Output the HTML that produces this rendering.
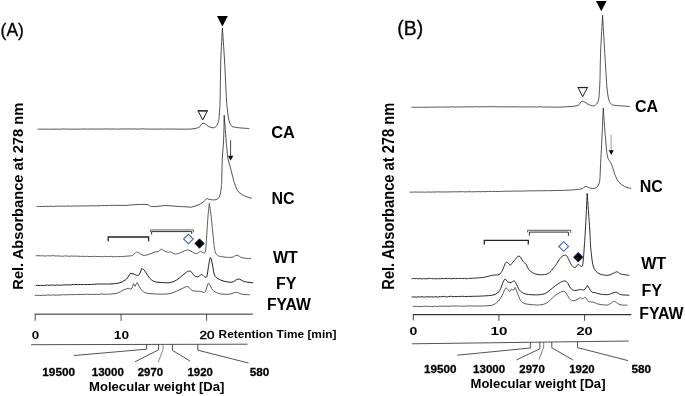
<!DOCTYPE html>
<html lang="en">
<head>
<meta charset="utf-8">
<title>Chromatograms</title>
<style>
  html, body { margin: 0; padding: 0; background: #fff; }
  body { width: 685px; height: 396px; overflow: hidden; }
  svg { display: block; }
  text { font-family: "Liberation Sans", sans-serif; fill: #000; }
  .b { font-weight: bold; }
</style>
</head>
<body>
<svg width="685" height="396" viewBox="0 0 685 396">
  <rect width="685" height="396" fill="#fff"/>

  <!-- chromatogram traces -->
  <g fill="none" stroke="#141414" stroke-width="0.85" stroke-linejoin="round" stroke-linecap="round">
    <path id="CA_A" stroke="#222" stroke-width="0.8" d="M38.0 129.2L39.4 129.18L40.8 129.23L42.2 129.17L43.7 129.16L45.1 129.11L46.5 129.16L47.9 129.26L49.3 129.21L50.7 129.25L52.1 129.19L53.6 129.19L55.0 129.17L56.4 129.02L57.8 129.22L59.2 129.19L60.6 129.18L62.0 129.01L63.4 129.00L64.9 129.06L66.3 129.09L67.7 129.15L69.1 129.12L70.5 129.16L71.9 129.07L73.3 129.14L74.8 129.14L76.2 129.05L77.6 129.24L79.0 129.14L80.4 129.19L81.8 129.04L83.2 129.03L84.7 129.06L86.1 129.07L87.5 129.13L88.9 129.10L90.3 129.04L91.7 128.99L93.1 129.02L94.6 129.16L96.0 128.99L97.4 129.07L98.8 129.09L100.2 128.93L101.6 129.05L103.0 129.15L104.4 128.88L105.9 129.01L107.3 129.02L108.7 128.96L110.1 129.06L111.5 129.02L112.9 128.90L114.3 129.08L115.8 129.06L117.2 129.08L118.6 129.12L120.0 129.03L121.4 129.01L122.9 128.90L124.3 129.06L125.7 128.96L127.1 128.98L128.6 128.91L130.0 128.94L131.4 128.98L132.9 129.12L134.3 128.86L135.7 128.91L137.1 129.05L138.6 129.15L140.0 129.08L141.4 128.88L142.9 128.84L144.3 129.07L145.7 128.98L147.1 128.96L148.6 129.13L150.0 129.14L151.4 129.06L152.9 129.07L154.3 129.09L155.7 129.19L157.1 129.11L158.6 129.11L160.0 129.11L161.4 128.94L162.9 129.17L164.3 129.15L165.7 129.12L167.1 128.92L168.6 129.03L170.0 129.15L171.4 128.94L172.9 129.07L174.3 129.17L175.7 128.99L177.1 129.22L178.6 129.14L180.0 129.10C181.7 129.1 187.5 129.2 190.0 129.1C192.5 129.0 193.7 128.7 195.0 128.5C196.3 128.3 196.8 128.1 197.6 127.8C198.4 127.5 199.2 127.4 199.8 126.8C200.4 126.2 200.9 124.9 201.4 124.3C201.9 123.7 202.4 123.3 203.0 123.2C203.6 123.1 204.3 123.4 205.2 123.9C206.1 124.4 207.1 125.6 208.2 126.2C209.3 126.8 211.0 127.5 212.0 127.7C213.0 127.9 213.4 128.0 214.2 127.6C215.0 127.2 216.2 126.5 216.9 125.5C217.6 124.5 218.0 123.2 218.4 121.7C218.8 120.2 219.0 118.5 219.2 116.4C219.4 114.3 219.5 111.7 219.7 109.0C219.8 106.3 219.9 108.2 220.1 100.0C220.3 91.8 220.4 72.0 220.8 60.0C221.2 48.0 222.1 33.6 222.4 28.3C222.8 33.6 223.8 48.0 224.5 60.0C225.2 72.0 226.0 91.7 226.5 100.0C227.0 108.3 227.2 106.8 227.5 110.0C227.8 113.2 228.1 116.5 228.6 118.9C229.1 121.3 229.8 123.3 230.5 124.6C231.2 125.9 231.5 126.3 233.0 126.8C234.5 127.3 236.7 127.5 239.3 127.8C241.9 128.1 247.2 128.4 248.8 128.5"/>
    <path id="NC_A" stroke="#222" stroke-width="0.8" d="M37.0 206.5L38.4 206.47L39.8 206.50L41.2 206.51L42.6 206.44L44.0 206.52L45.4 206.32L46.9 206.33L48.3 206.46L49.7 206.34L51.1 206.23L52.5 206.39L53.9 206.43L55.3 206.22L56.7 206.10L58.1 206.21L59.5 206.19L60.9 206.16L62.3 206.31L63.8 206.05L65.2 206.26L66.6 205.99L68.0 206.02L69.4 206.14L70.8 206.17L72.2 206.13L73.6 206.06L75.0 206.02L76.4 206.00L77.8 206.02L79.2 205.93L80.7 205.96L82.1 205.97L83.5 205.89L84.9 205.95L86.3 205.91L87.7 206.04L89.1 205.85L90.5 205.76L91.9 205.75L93.3 205.76L94.7 205.84L96.1 205.69L97.6 205.75L99.0 205.88L100.4 205.42L101.8 205.54L103.2 205.66L104.6 205.66L106.0 205.60C107.1 205.6 109.4 205.3 112.6 205.3C115.8 205.3 121.5 205.5 125.3 205.4C129.1 205.3 131.7 204.8 135.4 204.6C139.1 204.4 144.8 204.2 147.3 204.5C149.8 204.8 148.9 206.0 150.5 206.3C152.1 206.6 154.3 206.6 156.8 206.5C159.3 206.4 162.5 205.5 165.7 205.5C168.9 205.5 172.4 206.1 175.8 206.3C179.2 206.5 183.4 206.7 186.0 206.8C188.6 206.9 189.2 207.5 191.4 207.1C193.6 206.7 196.7 205.6 198.9 204.6C201.1 203.6 203.3 201.9 204.6 200.8C205.9 199.8 206.5 198.7 206.9 198.3C207.2 198.5 207.8 199.0 209.0 199.3C210.2 199.6 212.6 200.0 214.1 199.9C215.6 199.8 216.9 199.6 217.9 198.7C218.9 197.8 219.6 196.6 220.2 194.5C220.8 192.4 221.2 188.4 221.4 186.3C221.7 184.2 221.5 186.3 221.7 181.7C221.8 177.1 222.0 165.8 222.3 158.9C222.6 152.0 223.3 147.3 223.6 140.0C223.9 132.7 224.1 119.3 224.2 115.2C224.5 119.3 225.6 134.2 226.1 140.0C226.6 145.8 226.7 146.9 227.0 150.1C227.3 153.2 227.4 155.9 228.0 158.9C228.6 161.9 229.6 164.2 230.5 167.8C231.4 171.4 232.8 177.3 233.7 180.4C234.5 183.5 234.8 184.4 235.6 186.3C236.4 188.2 237.2 190.4 238.7 192.0C240.2 193.6 242.3 194.8 244.4 195.8C246.5 196.8 250.2 197.8 251.3 198.2"/>
    <path id="WT_A" stroke="#303030" stroke-width="0.78" d="M36.2 255.7L37.6 255.75L39.0 255.68L40.5 255.84L41.9 255.81L43.3 255.72L44.7 256.13L46.2 255.87L47.6 255.77L49.0 255.85L50.4 255.85L51.9 255.89L53.3 255.57L54.7 255.88L56.1 256.09L57.6 255.82L59.0 255.99L60.4 256.14L61.8 256.14L63.3 256.24L64.7 255.85L66.1 256.04L67.5 256.06L69.0 256.20L70.4 256.28L71.8 255.81L73.2 256.32L74.7 256.01L76.1 256.30L77.5 256.04L78.9 256.27L80.4 256.42L81.8 256.27L83.2 256.33L84.6 256.43L86.1 256.36L87.5 256.35L88.9 256.58L90.3 256.53L91.8 256.38L93.2 256.79L94.6 256.30L96.0 256.59L97.5 256.46L98.9 256.53L100.3 256.62L101.7 256.57L103.2 256.65L104.6 256.38L106.0 256.40L107.4 256.68L108.8 256.47L110.3 256.47L111.7 256.41L113.1 256.76L114.5 256.70L115.9 256.79L117.4 256.48L118.8 256.60L120.2 256.60C122.1 256.5 129.3 256.1 131.6 255.7C133.9 255.3 133.3 254.6 134.1 254.0C134.9 253.4 135.8 252.3 136.6 252.1C137.4 251.9 138.0 252.5 139.1 253.0C140.2 253.5 141.4 255.0 142.9 255.3C144.4 255.6 146.1 255.2 148.0 254.7C149.9 254.2 152.5 252.6 154.3 252.1C156.1 251.6 157.5 252.0 158.7 251.5C159.8 251.0 160.2 249.3 161.2 249.2C162.1 249.1 163.2 250.4 164.4 250.9C165.6 251.4 167.1 252.2 168.2 252.4C169.2 252.6 169.6 251.6 170.7 251.9C171.8 252.2 173.0 253.8 174.5 254.0C176.0 254.2 177.6 253.6 179.5 253.0C181.4 252.4 184.4 250.8 186.0 250.3C187.6 249.8 187.7 249.7 188.9 250.1C190.1 250.5 192.0 252.0 193.4 252.6C194.8 253.2 195.9 253.7 197.1 253.5C198.2 253.3 199.2 251.5 200.3 251.4C201.4 251.3 202.7 252.9 203.5 252.9C204.3 252.9 204.9 253.7 205.4 251.6C205.9 249.5 206.1 244.3 206.4 240.3C206.7 236.3 206.9 231.8 207.2 227.6C207.5 223.4 207.8 219.0 208.1 215.0C208.4 211.0 209.1 205.3 209.3 203.4C209.6 205.3 210.5 211.0 211.0 215.0C211.5 219.0 211.9 223.4 212.3 227.6C212.7 231.8 213.2 236.5 213.6 240.3C214.0 244.1 214.2 247.9 214.8 250.4C215.4 252.9 215.9 254.1 217.3 255.2C218.7 256.3 220.6 256.5 223.0 256.9C225.4 257.2 229.6 257.6 231.9 257.3C234.2 257.0 235.2 255.1 236.9 255.2C238.6 255.3 239.7 257.1 242.0 257.7C244.3 258.3 249.3 258.5 250.8 258.6"/>
    <path id="FY_A" stroke="#111" stroke-width="0.95" d="M36.2 285.5L37.6 285.32L39.0 285.54L40.5 285.61L41.9 285.26L43.3 285.55L44.7 285.44L46.2 285.26L47.6 285.00L49.0 285.41L50.4 285.18L51.9 285.08L53.3 285.18L54.7 285.16L56.1 285.27L57.6 284.91L59.0 285.16L60.4 285.17L61.8 285.14L63.3 284.89L64.7 284.79L66.1 284.99L67.5 284.84L69.0 284.81L70.4 284.95L71.8 284.70L73.2 284.41L74.7 284.62L76.1 284.40L77.5 284.72L78.9 284.62L80.4 284.47L81.8 284.52L83.2 284.60L84.6 284.47L86.1 284.60L87.5 284.39L88.9 284.50L90.3 284.53L91.8 284.52L93.2 284.19L94.6 284.36L96.0 283.97L97.5 284.04L98.9 283.90L100.3 284.26L101.7 283.93L103.2 284.06L104.6 284.01L106.0 284.00C106.7 284.0 107.9 284.2 110.1 284.0C112.2 283.8 116.3 283.7 118.9 283.0C121.5 282.3 124.0 281.2 125.9 279.6C127.8 278.0 129.6 274.4 130.3 273.3C130.9 273.4 132.7 273.8 134.1 274.1C135.5 274.5 137.2 276.3 138.5 275.4C139.8 274.5 141.2 269.7 141.7 268.6C142.1 268.9 143.1 268.9 144.2 270.1C145.2 271.3 146.7 274.1 148.0 275.8C149.3 277.5 150.3 279.1 151.8 280.2C153.3 281.2 154.5 281.7 156.8 282.1C159.1 282.5 163.5 282.6 165.7 282.7C167.9 282.8 168.2 283.0 170.0 282.6C171.8 282.2 174.2 281.5 176.3 280.3C178.4 279.1 180.7 276.8 182.6 275.3C184.5 273.8 186.3 272.1 187.7 271.5C189.1 270.9 189.8 270.9 190.8 271.5C191.9 272.1 192.8 274.4 194.0 275.3C195.2 276.2 196.5 276.9 197.8 276.8C199.1 276.7 200.4 274.6 201.6 274.6C202.8 274.6 203.8 276.5 204.7 276.8C205.6 277.1 206.3 278.2 206.9 276.5C207.5 274.8 207.9 269.5 208.5 266.4C209.1 263.2 209.8 258.0 210.4 257.6C211.0 257.2 211.7 261.2 212.3 263.9C212.9 266.6 213.5 271.7 214.2 274.0C214.9 276.3 215.2 276.7 216.7 277.8C218.2 278.9 220.5 280.2 223.0 280.9C225.5 281.6 229.4 282.5 231.9 282.2C234.4 281.9 236.1 279.1 238.2 279.0C240.3 278.9 242.1 281.0 244.5 281.6C246.9 282.2 251.3 282.6 252.7 282.8"/>
    <path id="FYAW_A" stroke="#2a2a2a" stroke-width="0.8" d="M35.2 295.4L36.6 295.37L38.0 295.27L39.4 295.35L40.9 295.53L42.3 295.28L43.7 295.31L45.1 295.35L46.5 295.17L47.9 295.00L49.4 295.07L50.8 295.25L52.2 294.87L53.6 294.98L55.0 295.17L56.4 295.11L57.9 294.98L59.3 295.06L60.7 294.95L62.1 294.75L63.5 294.68L64.9 294.77L66.4 294.95L67.8 294.73L69.2 294.66L70.6 294.65L72.0 294.52L73.4 294.68L74.8 294.52L76.3 294.69L77.7 294.31L79.1 294.64L80.5 294.48L81.9 294.29L83.3 294.61L84.8 294.45L86.2 294.17L87.6 294.32L89.0 294.45L90.4 294.33L91.8 294.46L93.3 294.43L94.7 294.39L96.1 294.32L97.5 294.43L98.9 294.32L100.3 294.26L101.8 293.91L103.2 294.27L104.6 294.30L106.0 294.10C106.7 294.1 108.1 294.3 110.1 294.1C112.0 293.9 115.6 293.7 117.7 293.1C119.8 292.5 120.9 291.1 122.7 290.3C124.5 289.5 127.0 288.6 128.4 288.4C129.8 288.2 130.5 289.8 131.3 289.0C132.2 288.2 133.1 284.6 133.5 283.7C133.8 284.1 134.8 285.9 135.1 286.3C135.4 285.7 136.8 283.1 137.2 282.5C137.7 283.5 139.1 286.7 140.4 288.4C141.7 290.1 142.7 291.7 144.8 292.6C146.9 293.5 150.5 293.6 153.0 293.8C155.5 294.1 157.7 294.1 160.0 294.1C162.3 294.1 165.0 294.2 167.0 294.0C169.0 293.8 170.4 293.5 172.0 293.0C173.6 292.5 174.8 291.9 176.5 291.2C178.2 290.5 180.1 289.4 182.0 288.6C183.9 287.8 185.9 286.2 187.7 286.6C189.5 287.0 190.6 289.9 192.7 290.7C194.8 291.5 198.3 291.1 200.3 291.4C202.3 291.7 203.6 292.9 204.7 292.3C205.8 291.7 206.0 289.4 206.6 287.9C207.2 286.4 207.8 283.3 208.5 283.2C209.2 283.1 210.2 285.9 211.0 287.2C211.8 288.5 212.0 289.9 213.6 291.0C215.2 292.1 217.9 293.4 220.5 293.9C223.1 294.4 226.7 294.5 229.3 294.2C231.9 293.9 234.2 292.3 236.3 292.3C238.4 292.3 239.8 293.8 242.0 294.2C244.2 294.6 248.2 294.6 249.5 294.7"/>
  </g>
  <g fill="none" stroke="#101010" stroke-width="0.95" stroke-linejoin="round" stroke-linecap="round">
    <path id="CA_B" stroke="#222" stroke-width="0.78" d="M412.0 107.3L413.4 107.26L414.8 107.24L416.3 107.42L417.7 107.11L419.1 107.28L420.5 107.42L422.0 107.15L423.4 107.26L424.8 107.35L426.2 107.17L427.7 107.22L429.1 107.23L430.5 107.08L431.9 107.13L433.3 107.15L434.8 107.18L436.2 107.10L437.6 107.08L439.0 107.00L440.5 107.04L441.9 107.13L443.3 107.05L444.7 106.97L446.2 106.96L447.6 107.22L449.0 107.09L450.4 107.04L451.8 106.77L453.3 107.02L454.7 106.99L456.1 107.08L457.5 106.96L459.0 106.91L460.4 106.95L461.8 106.74L463.2 106.97L464.7 106.90L466.1 106.81L467.5 106.96L468.9 106.98L470.3 106.71L471.8 106.76L473.2 106.83L474.6 106.81L476.0 106.75L477.5 106.69L478.9 106.93L480.3 106.83L481.7 106.64L483.2 106.62L484.6 106.85L486.0 106.78L487.4 106.85L488.8 106.78L490.3 106.65L491.7 106.75L493.1 106.57L494.5 106.69L496.0 106.75L497.4 106.80L498.8 106.71L500.2 106.77L501.7 106.82L503.1 106.82L504.5 106.85L505.9 106.82L507.3 106.79L508.8 106.89L510.2 106.83L511.6 106.77L513.0 106.80L514.5 106.85L515.9 106.85L517.3 106.88L518.7 106.88L520.2 106.90L521.6 106.88L523.0 106.80L524.4 106.94L525.8 107.00L527.3 106.96L528.7 106.92L530.1 106.97L531.5 106.87L533.0 106.80L534.4 106.97L535.8 106.89L537.2 107.04L538.7 106.90L540.1 106.78L541.5 106.92L542.9 107.13L544.3 106.98L545.8 106.91L547.2 106.97L548.6 107.08L550.0 107.09L551.5 107.07L552.9 107.18L554.3 107.13L555.7 107.08L557.2 107.13L558.6 107.22L560.0 107.10C561.7 107.0 567.3 106.8 570.0 106.6C572.7 106.4 574.6 106.2 576.1 105.9C577.6 105.6 578.4 105.3 579.1 104.7C579.9 104.1 580.1 102.9 580.6 102.3C581.1 101.7 581.6 101.3 582.3 101.3C583.0 101.3 583.8 101.6 584.8 102.1C585.8 102.6 586.9 103.7 588.2 104.3C589.5 104.9 591.5 105.8 592.7 105.9C593.9 106.0 594.6 105.7 595.4 105.1C596.2 104.5 597.1 103.6 597.7 102.5C598.3 101.4 598.5 100.1 598.8 98.3C599.1 96.5 599.2 94.5 599.4 91.8C599.6 89.1 599.8 84.8 599.9 82.0C600.0 79.2 600.0 80.3 600.1 75.0C600.2 69.7 600.3 59.9 600.7 50.0C601.1 40.1 602.3 21.2 602.6 15.4C602.9 21.2 604.0 40.1 604.6 50.0C605.2 59.9 605.7 68.7 606.1 75.0C606.5 81.3 606.6 84.0 607.0 88.0C607.4 92.0 608.0 96.4 608.6 98.9C609.2 101.5 609.6 102.2 610.5 103.3C611.4 104.3 612.0 104.8 613.7 105.2C615.4 105.6 618.0 105.6 620.6 105.8C623.2 106.0 627.9 106.4 629.4 106.5"/>
    <path id="NC_B" stroke="#222" stroke-width="0.78" d="M410.0 192.1L411.4 192.17L412.8 192.17L414.2 191.99L415.6 192.06L417.0 192.12L418.4 192.03L419.8 192.13L421.2 192.08L422.6 192.10L424.0 192.00L425.4 192.22L426.8 192.10L428.2 191.98L429.6 192.00L431.0 192.19L432.4 191.94L433.8 192.03L435.2 192.03L436.6 191.95L438.0 191.85L439.4 191.95L440.8 191.95L442.2 192.01L443.6 191.97L445.0 191.90L446.4 191.96L447.8 191.93L449.2 191.89L450.6 191.87L452.0 191.84L453.4 191.91L454.8 191.76L456.2 191.79L457.6 191.83L459.0 191.70L460.4 191.78L461.8 191.64L463.2 191.74L464.6 191.83L466.0 191.83L467.4 191.77L468.8 191.75L470.2 191.64L471.6 191.89L473.0 191.78L474.4 191.82L475.8 191.65L477.2 191.70L478.6 191.56L480.0 191.76L481.4 191.75L482.8 191.50L484.2 191.63L485.7 191.66L487.1 191.45L488.5 191.42L489.9 191.46L491.3 191.48L492.7 191.39L494.1 191.49L495.5 191.48L497.0 191.49L498.4 191.47L499.8 191.52L501.2 191.47L502.6 191.25L504.0 191.29L505.4 191.22L506.8 191.20L508.3 191.26L509.7 191.24L511.1 191.26L512.5 191.07L513.9 191.08L515.3 191.15L516.7 191.12L518.2 191.09L519.6 191.09L521.0 191.01L522.4 191.10L523.8 191.05L525.2 191.00L526.6 190.93L528.0 190.95L529.5 190.72L530.9 190.84L532.3 190.90L533.7 190.75L535.1 190.87L536.5 190.84L537.9 190.70L539.3 190.77L540.8 190.74L542.2 190.78L543.6 190.77L545.0 190.70L546.5 190.61L548.0 190.65L549.5 190.63L551.0 190.68L552.5 190.62L554.0 190.52L555.5 190.45L557.0 190.51L558.5 190.46L560.0 190.50C562.1 190.4 569.0 190.2 572.6 189.9C576.2 189.6 579.6 189.3 581.5 188.9C583.4 188.5 583.3 187.8 584.0 187.4C584.7 187.0 585.2 186.4 585.9 186.4C586.6 186.4 587.2 187.0 588.4 187.4C589.5 187.8 591.4 188.6 592.8 188.6C594.2 188.6 595.6 188.2 596.6 187.4C597.6 186.6 598.3 185.5 598.9 183.9C599.5 182.3 599.8 180.3 600.0 177.6C600.2 174.9 600.2 172.7 600.4 167.9C600.6 163.1 601.1 155.2 601.4 148.9C601.7 142.6 602.0 136.8 602.3 130.0C602.6 123.2 603.1 111.7 603.3 108.0C603.5 111.7 604.4 124.7 604.8 130.0C605.2 135.3 605.4 136.5 605.7 140.1C606.0 143.7 606.3 148.4 606.7 151.5C607.1 154.6 607.4 156.6 608.0 158.4C608.6 160.2 609.8 160.8 610.5 162.2C611.2 163.6 611.8 164.8 612.4 166.6C613.0 168.4 613.8 171.3 614.3 172.9C614.8 174.5 614.9 174.8 615.6 176.3C616.3 177.8 617.2 180.3 618.7 182.0C620.2 183.7 622.4 185.3 624.4 186.4C626.4 187.5 629.7 188.0 630.7 188.3"/>
    <path id="WT_B" stroke="#111" stroke-width="0.88" d="M412.0 278.7L413.4 278.51L414.8 278.67L416.2 278.60L417.7 278.69L419.1 278.75L420.5 278.59L421.9 279.02L423.3 278.59L424.7 278.81L426.1 278.65L427.6 278.80L429.0 278.23L430.4 278.48L431.8 278.64L433.2 278.69L434.6 278.96L436.0 278.63L437.5 278.77L438.9 278.68L440.3 278.71L441.7 278.63L443.1 278.51L444.5 278.61L446.0 278.35L447.4 278.71L448.8 278.35L450.2 278.54L451.6 278.83L453.0 278.45L454.4 278.48L455.9 278.66L457.3 278.47L458.7 278.33L460.1 278.49L461.5 278.54L462.9 278.55L464.3 278.31L465.8 278.70L467.2 278.68L468.6 278.41L470.0 278.40C472.1 278.2 478.8 278.0 482.6 277.5C486.4 277.0 490.0 275.7 492.7 275.2C495.4 274.7 497.4 275.4 499.0 274.6C500.6 273.8 501.6 272.0 502.6 270.2C503.6 268.4 504.4 264.9 505.1 263.6C505.8 262.3 506.0 262.0 506.9 262.3C507.8 262.6 509.8 264.9 510.4 265.4C511.0 264.6 512.8 262.3 514.2 260.7C515.6 259.1 517.5 255.9 519.0 256.0C520.5 256.1 521.8 259.9 523.0 261.3C524.2 262.7 525.2 263.1 526.2 264.5C527.2 265.9 527.7 268.1 528.7 269.5C529.8 270.9 530.9 271.8 532.5 272.7C534.1 273.6 536.2 274.3 538.2 274.6C540.2 274.9 542.6 274.9 544.5 274.6C546.4 274.3 548.0 273.8 549.5 272.7C551.0 271.6 552.2 269.6 553.3 268.3C554.4 267.0 554.9 266.5 556.0 264.8C557.1 263.1 558.9 259.9 560.2 258.3C561.5 256.7 562.9 255.8 563.9 255.4C564.9 255.0 565.6 254.9 566.5 255.7C567.4 256.5 568.1 258.5 569.0 260.2C569.9 261.9 571.1 264.6 572.1 265.8C573.1 267.0 574.3 267.8 575.3 267.5C576.3 267.2 577.1 264.4 578.1 264.2C579.1 264.0 580.2 266.3 581.0 266.5C581.8 266.7 582.2 266.7 582.6 265.2C583.0 263.7 583.2 261.0 583.5 257.6C583.8 254.2 584.1 249.6 584.4 245.0C584.7 240.4 584.9 238.6 585.4 230.0C585.9 221.4 586.9 199.5 587.2 193.4C587.6 199.5 589.2 221.4 589.8 230.0C590.3 238.6 590.2 240.8 590.5 245.0C590.8 249.2 591.1 251.7 591.5 255.1C591.9 258.5 592.3 262.6 593.0 265.2C593.7 267.8 594.2 269.4 595.5 270.9C596.8 272.4 598.5 273.6 600.6 274.3C602.7 275.0 606.0 275.5 608.1 275.3C610.2 275.1 611.7 274.0 613.2 273.4C614.7 272.8 615.7 271.7 617.0 271.8C618.3 271.9 618.8 273.4 620.8 274.0C622.8 274.6 627.6 275.1 629.0 275.3"/>
    <path id="FY_B" stroke="#111" stroke-width="0.92" d="M412.0 297.0L413.4 297.03L414.8 296.90L416.2 297.18L417.7 296.83L419.1 297.03L420.5 296.84L421.9 296.79L423.3 297.00L424.7 297.08L426.1 296.85L427.6 296.73L429.0 296.95L430.4 296.80L431.8 296.84L433.2 297.02L434.6 296.95L436.0 296.67L437.5 297.10L438.9 296.72L440.3 296.83L441.7 296.59L443.1 296.67L444.5 296.38L446.0 296.93L447.4 296.85L448.8 296.43L450.2 296.36L451.6 296.33L453.0 296.76L454.4 296.49L455.9 296.54L457.3 296.48L458.7 296.50L460.1 296.33L461.5 296.49L462.9 296.24L464.3 296.45L465.8 296.49L467.2 296.50L468.6 296.38L470.0 296.40C472.1 296.3 478.6 296.3 482.6 296.0C486.6 295.7 491.1 295.7 494.0 294.8C496.9 293.9 498.2 292.5 499.7 290.4C501.2 288.3 502.2 284.0 503.1 282.1C504.0 280.2 504.4 279.2 505.1 279.2C505.9 279.1 506.6 281.2 507.6 281.8C508.6 282.4 509.9 282.6 511.0 282.5C512.0 282.4 513.0 280.8 513.9 280.9C514.8 281.0 515.2 281.9 516.1 283.4C517.0 284.9 518.3 288.3 519.2 289.7C520.1 291.1 520.2 291.2 521.4 292.0C522.6 292.8 523.9 293.7 526.4 294.2C528.9 294.7 533.5 294.9 536.5 294.9C539.5 294.8 542.0 294.6 544.1 293.9C546.2 293.2 547.2 292.2 549.1 290.8C551.0 289.4 553.6 287.1 555.5 285.7C557.4 284.3 559.0 283.1 560.5 282.3C562.0 281.5 563.4 280.9 564.5 280.9C565.6 280.9 566.3 281.3 567.3 282.5C568.3 283.7 569.5 287.0 570.7 288.3C571.9 289.6 572.8 290.3 574.5 290.5C576.2 290.7 579.1 289.6 580.7 289.5C582.3 289.4 583.1 290.6 584.2 289.9C585.3 289.2 586.8 286.1 587.3 285.4C587.6 285.9 588.5 287.2 589.2 288.3C589.9 289.4 590.7 291.3 591.7 292.0C592.8 292.7 594.0 292.3 595.5 292.7C597.0 293.1 598.5 293.9 600.6 294.2C602.7 294.5 606.2 294.8 608.1 294.6C610.0 294.5 610.5 293.7 611.9 293.3C613.3 292.9 614.8 292.1 616.3 292.3C617.8 292.5 618.7 294.1 620.8 294.6C622.9 295.1 627.6 295.1 629.0 295.2"/>
    <path id="FYAW_B" stroke="#303030" stroke-width="0.8" d="M413.3 306.5L414.7 306.34L416.2 306.50L417.6 306.39L419.0 306.70L420.4 306.56L421.9 306.41L423.3 306.34L424.7 306.29L426.1 306.24L427.6 306.33L429.0 306.42L430.4 306.44L431.8 306.44L433.3 306.67L434.7 306.21L436.1 306.31L437.5 306.75L439.0 305.99L440.4 306.19L441.8 306.29L443.2 306.28L444.7 306.31L446.1 306.19L447.5 306.28L448.9 306.21L450.4 306.32L451.8 305.88L453.2 306.03L454.6 306.16L456.1 305.98L457.5 305.97L458.9 306.22L460.3 306.01L461.8 306.20L463.2 306.21L464.6 306.13L466.0 306.15L467.5 306.04L468.9 305.82L470.3 306.02L471.7 306.09L473.2 305.92L474.6 305.98L476.0 306.10L477.4 305.83L478.9 306.06L480.3 306.25L481.7 305.85L483.1 305.95L484.6 305.89L486.0 305.90C487.1 305.8 490.7 305.7 492.7 305.0C494.7 304.3 496.2 303.3 497.8 301.7C499.4 300.1 501.1 297.4 502.2 295.4C503.3 293.4 504.0 290.9 504.7 289.7C505.4 288.5 505.5 287.8 506.4 288.1C507.2 288.4 509.0 291.2 509.8 291.4C510.6 291.6 510.8 289.3 511.4 289.1C512.0 288.9 513.0 290.4 513.6 290.1C514.2 289.9 514.6 287.1 515.2 287.6C515.8 288.1 516.5 291.0 517.3 292.9C518.1 294.8 519.1 297.7 519.9 299.2C520.7 300.7 520.9 301.3 522.0 302.1C523.1 302.9 524.0 303.5 526.4 304.0C528.8 304.5 533.6 304.9 536.5 305.0C539.4 305.1 541.6 304.8 543.5 304.3C545.4 303.8 546.3 303.2 547.9 302.1C549.5 301.0 551.3 298.9 552.9 297.5C554.5 296.1 555.5 294.9 557.3 293.9C559.1 292.8 562.0 291.3 563.5 291.2C565.0 291.1 565.0 291.8 566.0 293.0C567.0 294.2 568.3 297.1 569.3 298.4C570.3 299.6 570.8 300.2 571.9 300.5C573.0 300.8 574.2 300.8 575.7 300.3C577.2 299.8 579.5 297.9 580.6 297.7C581.8 297.5 581.8 299.1 582.6 299.0C583.4 298.9 584.2 296.9 585.2 297.3C586.2 297.7 587.3 300.7 588.6 301.5C589.9 302.3 591.4 301.7 593.0 302.1C594.6 302.5 595.7 303.5 598.0 304.0C600.3 304.5 604.8 305.2 606.9 305.1C609.0 305.0 609.5 304.0 610.7 303.4C611.9 302.8 613.0 301.2 614.2 301.3C615.5 301.4 616.9 303.2 618.2 303.8C619.5 304.4 620.5 304.9 622.0 305.1C623.5 305.3 626.2 305.1 627.1 305.1"/>
  </g>

  <!-- ===== panel A ===== -->
  <text x="0.6" y="35.9" font-size="17.6" stroke="#000" stroke-width="0.3" textLength="23.2" lengthAdjust="spacingAndGlyphs">(A)</text>
  <text class="b" font-size="15.3" transform="translate(22.95 289.7) rotate(-90)" textLength="186.9" lengthAdjust="spacingAndGlyphs">Rel. Absorbance at 278 nm</text>
  <polygon points="217,16 227.8,16 222.4,26.4" fill="#000"/>
  <polygon points="198.1,110.9 207.3,110.9 202.7,120" fill="#fff" stroke="#222" stroke-width="1"/>
  <path d="M197.6 110.8H207.8" stroke="#222" stroke-width="1.15" fill="none"/>
  <path d="M230.6 140.2V156" stroke="#333" stroke-width="0.9" fill="none"/>
  <polygon points="228,155.7 233.3,155.7 230.6,160.4" fill="#000"/>
  <text class="b" font-size="16" x="271.3" y="137.8" textLength="23.6" lengthAdjust="spacingAndGlyphs">CA</text>
  <text class="b" font-size="16" x="271.5" y="204.2">NC</text>
  <text class="b" font-size="16" x="273" y="263.3">WT</text>
  <text class="b" font-size="16" x="276" y="289.3">FY</text>
  <text class="b" font-size="16" x="267" y="309.6" textLength="43.8" lengthAdjust="spacingAndGlyphs">FYAW</text>
  <!-- brackets -->
  <path d="M108.2 241.2V237H148.6V241.2" fill="none" stroke="#222" stroke-width="1.3"/>
  <path d="M150.4 232V229.9H193.3V232.3" fill="none" stroke="#444" stroke-width="0.85"/>
  <path d="M151.6 234.5V231.6H191.7V234" fill="none" stroke="#222" stroke-width="0.95"/>
  <!-- diamonds -->
  <polygon points="183.6,239 188.4,234.3 193.3,239 188.4,243.7" fill="#fff" stroke="#4668a6" stroke-width="1.05"/>
  <polygon points="194.8,243.5 199.5,238.8 204.2,243.5 199.5,248.3" fill="#000" stroke="#1b2f63" stroke-width="0.9"/>
  <!-- time axis -->
  <path d="M34.8 314.15H252.8" fill="none" stroke="#000" stroke-width="0.85"/>
  <path d="M35.2 320.8V314.1M121.1 314.1V320.8M206.6 314.1V320.8" fill="none" stroke="#222" stroke-width="0.8"/>
  <text class="b" font-size="11.8" x="31.7" y="339.3" textLength="7.4" lengthAdjust="spacingAndGlyphs">0</text>
  <text class="b" font-size="11.8" x="113.8" y="339.3" textLength="15.2" lengthAdjust="spacingAndGlyphs">10</text>
  <text font-size="11.8" x="199.4" y="339.3" textLength="15" lengthAdjust="spacingAndGlyphs" stroke="#000" stroke-width="0.45">20</text>
  <text class="b" font-size="11.5" x="218.6" y="337.7" textLength="117.8" lengthAdjust="spacingAndGlyphs">Retention Time [min]</text>
  <!-- MW axis -->
  <g fill="none" stroke="#222" stroke-width="0.78">
    <path d="M31.1 344.7L247.6 344.2"/>
    <path d="M146.6 344.4V349.2L74 355.5"/>
    <path d="M158.6 344.4V349.8L135 361.8"/>
    <path d="M163 344.4V349.8L158.2 362.2" stroke="#666"/>
    <path d="M172.4 344.4V350.3L190.2 361.2"/>
    <path d="M197.8 344.4V350.2L248.5 363"/>
  </g>
  <g class="b" font-size="11.6" stroke="#000" stroke-width="0.3">
    <text x="42.3" y="376.1" textLength="32.8" lengthAdjust="spacingAndGlyphs">19500</text>
    <text x="91.7" y="376.1" textLength="32.2" lengthAdjust="spacingAndGlyphs">13000</text>
    <text x="137.8" y="376.1" textLength="25.3" lengthAdjust="spacingAndGlyphs">2970</text>
    <text x="187.5" y="376.1" textLength="25.3" lengthAdjust="spacingAndGlyphs">1920</text>
    <text x="249.8" y="376.1" textLength="19.6" lengthAdjust="spacingAndGlyphs">580</text>
  </g>
  <text class="b" font-size="12.4" x="89" y="390.8" textLength="135.4" lengthAdjust="spacingAndGlyphs">Molecular weight [Da]</text>

  <!-- ===== panel B ===== -->
  <text x="397.3" y="34.8" font-size="19.3" stroke="#000" stroke-width="0.3" textLength="25.8" lengthAdjust="spacingAndGlyphs">(B)</text>
  <text class="b" font-size="15.6" transform="translate(394.3 289.7) rotate(-90)" textLength="186.9" lengthAdjust="spacingAndGlyphs">Rel. Absorbance at 278 nm</text>
  <polygon points="596,1 606.6,1 601.3,11.2" fill="#000"/>
  <polygon points="578.1,87.6 587.3,87.6 582.7,96.7" fill="#fff" stroke="#222" stroke-width="1"/>
  <path d="M577.6 87.5H587.8" stroke="#222" stroke-width="1.15" fill="none"/>
  <path d="M611.1 134.8V151" stroke="#808080" stroke-width="0.8" fill="none"/>
  <polygon points="608.7,150.2 613.8,150.2 611.2,154.9" fill="#000"/>
  <text class="b" font-size="16" x="635" y="112.3">CA</text>
  <text class="b" font-size="16" x="639.8" y="192">NC</text>
  <text class="b" font-size="16" x="641.2" y="269">WT</text>
  <text class="b" font-size="16" x="641.5" y="296.1">FY</text>
  <text class="b" font-size="16" x="639.2" y="318.8" textLength="44.4" lengthAdjust="spacingAndGlyphs">FYAW</text>
  <!-- brackets -->
  <path d="M484.3 244.6V240.4H528.3V244.6" fill="none" stroke="#222" stroke-width="1.3"/>
  <path d="M527.6 232.4V230.3H570.7V232.9" fill="none" stroke="#3a3a3a" stroke-width="0.85"/>
  <path d="M529.4 235.7V232.1H568.4V235.9" fill="none" stroke="#222" stroke-width="0.95"/>
  <!-- diamonds -->
  <polygon points="558.8,246.5 563.7,241.7 568.6,246.5 563.7,251.3" fill="#fff" stroke="#4668a6" stroke-width="1.05"/>
  <polygon points="573.5,257.2 578.2,252.4 583,257.2 578.2,262" fill="#000" stroke="#1b2f63" stroke-width="0.9"/>
  <!-- time axis -->
  <path d="M412.8 314.6H631.3" fill="none" stroke="#333" stroke-width="1.3"/>
  <path d="M413.3 320.4V314.6M498.9 314.6V320.8M584.6 314.6V320.8" fill="none" stroke="#444" stroke-width="1"/>
  <text class="b" font-size="11.6" x="409.5" y="335.3" textLength="7.8" lengthAdjust="spacingAndGlyphs">0</text>
  <text class="b" font-size="11.6" x="490.6" y="335.3" textLength="16.8" lengthAdjust="spacingAndGlyphs">10</text>
  <text class="b" font-size="11.6" x="576.4" y="335.3" textLength="16.2" lengthAdjust="spacingAndGlyphs">20</text>
  <!-- MW axis -->
  <g fill="none" stroke="#222" stroke-width="0.78">
    <path d="M412 343.8L628.8 341"/>
    <path d="M530.4 342.2V348L457.2 355.2"/>
    <path d="M539.9 342.1V348.8L516.5 359.9"/>
    <path d="M543.7 342.1V347L539 359.6" stroke="#555"/>
    <path d="M551.8 342V347.8L572.9 359.9"/>
    <path d="M577.5 341.7V347.6L628 360.6"/>
  </g>
  <g class="b" font-size="11.6" stroke="#000" stroke-width="0.3">
    <text x="424" y="373.1" textLength="32.4" lengthAdjust="spacingAndGlyphs">19500</text>
    <text x="473.1" y="373.1" textLength="32" lengthAdjust="spacingAndGlyphs">13000</text>
    <text x="519.3" y="373.1" textLength="25.5" lengthAdjust="spacingAndGlyphs">2970</text>
    <text x="569.3" y="373.1" textLength="25.3" lengthAdjust="spacingAndGlyphs">1920</text>
    <text x="631.4" y="373.1" textLength="19.6" lengthAdjust="spacingAndGlyphs">580</text>
  </g>
  <text class="b" font-size="12.4" x="470.5" y="387.7" textLength="135" lengthAdjust="spacingAndGlyphs">Molecular weight [Da]</text>
</svg>
</body>
</html>
